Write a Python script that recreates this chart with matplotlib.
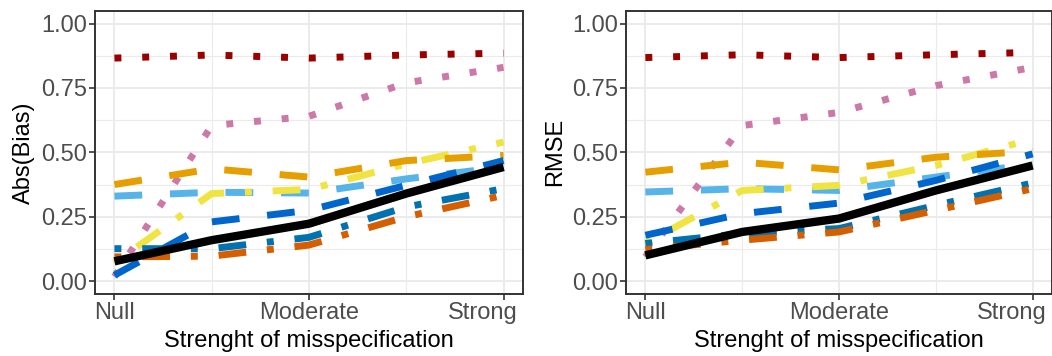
import matplotlib
matplotlib.use("Agg")
import matplotlib.pyplot as plt
from matplotlib.transforms import ScaledTranslation

plt.rcParams['font.family'] = ['Liberation Sans', 'DejaVu Sans']

# misspecification strength (0 = Null, 0.5 = Moderate, 1 = Strong)
strength = [0.0, 0.25, 0.5, 0.75, 1.0]
tick_pos = [0.0, 0.5, 1.0]
tick_labels = ['Null', 'Moderate', 'Strong']

# Abs(Bias) per method
bias_darkred = [0.866, 0.878, 0.866, 0.878, 0.885]
bias_pink = [0.017, 0.604, 0.640, 0.770, 0.830]
bias_lightblue = [0.330, 0.345, 0.342, 0.397, 0.443]
bias_yellow = [0.070, 0.340, 0.356, 0.455, 0.540]
bias_orange = [0.375, 0.436, 0.404, 0.468, 0.488]
bias_blue = [0.023, 0.230, 0.275, 0.372, 0.468]
bias_teal = [0.126, 0.126, 0.170, 0.288, 0.359]
bias_verm = [0.094, 0.097, 0.140, 0.250, 0.333]
bias_black = [0.077, 0.159, 0.223, 0.340, 0.443]

# RMSE per method
rmse_darkred = [0.868, 0.879, 0.868, 0.879, 0.888]
rmse_pink = [0.094, 0.604, 0.655, 0.759, 0.830]
rmse_lightblue = [0.346, 0.359, 0.352, 0.404, 0.455]
rmse_yellow = [0.146, 0.352, 0.372, 0.449, 0.552]
rmse_orange = [0.423, 0.462, 0.432, 0.481, 0.505]
rmse_blue = [0.178, 0.262, 0.303, 0.391, 0.494]
rmse_teal = [0.146, 0.185, 0.204, 0.294, 0.381]
rmse_verm = [0.123, 0.159, 0.191, 0.275, 0.359]
rmse_black = [0.100, 0.191, 0.243, 0.352, 0.449]

DOTTED = (0, (1, 3))
DASHED = (0, (4, 4))
DOTDASH = (0, (1, 3, 4, 3))

styles = [
    ('#990000', DOTTED),
    ('#CC79A7', DOTTED),
    ('#56B4E9', DASHED),
    ('#F0E442', DOTDASH),
    ('#E69F00', DASHED),
    ('#0066CC', DASHED),
    ('#0072B2', DOTDASH),
    ('#D55E00', DOTDASH),
    ('black', '-'),
]

bias_series = [bias_darkred, bias_pink, bias_lightblue, bias_yellow, bias_orange,
               bias_blue, bias_teal, bias_verm, bias_black]
rmse_series = [rmse_darkred, rmse_pink, rmse_lightblue, rmse_yellow, rmse_orange,
               rmse_blue, rmse_teal, rmse_verm, rmse_black]

FS = 17


def draw_panel(ax, series, ylabel):
    for vals, (col, ls) in zip(series, styles):
        lw = 6 if ls == '-' else 5
        ax.plot(strength, vals, color=col, linestyle=ls, linewidth=lw,
                solid_capstyle='butt', dash_capstyle='butt')
    ax.set_xlim(-0.05, 1.05)
    ax.set_ylim(-0.05, 1.05)
    ax.set_xticks(tick_pos)
    ax.set_xticklabels(tick_labels)
    ax.set_xticks([0.25, 0.75], minor=True)
    ax.set_yticks([0, 0.25, 0.5, 0.75, 1.0])
    ax.set_yticklabels(['0.00', '0.25', '0.50', '0.75', '1.00'])
    ax.set_yticks([0.125, 0.375, 0.625, 0.875], minor=True)
    ax.grid(True, which='major', color='#EBEBEB', linewidth=1.4, zorder=0)
    ax.grid(True, which='minor', color='#EBEBEB', linewidth=0.8, zorder=0)
    ax.set_axisbelow(True)
    ax.tick_params(which='major', length=4, width=1.2, color='#333333',
                   labelsize=FS, labelcolor='#4D4D4D', pad=2)
    ax.tick_params(which='minor', length=0)
    for sp in ax.spines.values():
        sp.set_color('#333333')
        sp.set_linewidth(1.4)
    # the "Strong" label sits a bit left of its tick in the original
    lab = ax.get_xticklabels()[-1]
    lab.set_transform(lab.get_transform() + ScaledTranslation(-21 / 100, 0, fig.dpi_scale_trans))
    ax.set_xlabel('Strenght of misspecification', fontsize=FS, labelpad=4)
    ax.set_ylabel(ylabel, fontsize=FS, labelpad=4)


fig = plt.figure(figsize=(10.52, 3.56), dpi=100)
ax1 = fig.add_axes([95 / 1052, 1 - 294 / 356, 428 / 1052, 283.3 / 356])
ax2 = fig.add_axes([626 / 1052, 1 - 294 / 356, 426 / 1052, 283.3 / 356])

draw_panel(ax1, bias_series, 'Abs(Bias)')
draw_panel(ax2, rmse_series, 'RMSE')

fig.savefig('out.png', dpi=100)
